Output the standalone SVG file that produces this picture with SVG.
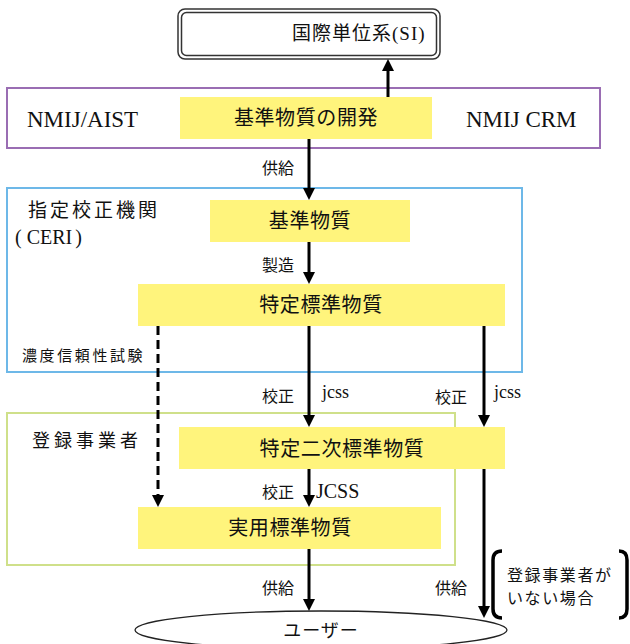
<svg xmlns="http://www.w3.org/2000/svg" width="630" height="644" viewBox="0 0 630 644">
<style>
.jp{font-family:"Noto Sans CJK JP","Noto Sans",sans-serif;fill:#111}
.sf{font-family:"Liberation Serif","DejaVu Serif",serif;fill:#111}
.box{font-size:20px;letter-spacing:0.6px;text-anchor:middle}
.lbl{font-size:16px}
.y{fill:#fff47c}
.ln{stroke:#000;stroke-width:3;fill:none}
</style>
<defs>
<marker id="ah" viewBox="0 0 12 12" refX="2" refY="6" markerWidth="12" markerHeight="12" markerUnits="userSpaceOnUse" orient="auto">
<path d="M0,0 L12,6 L0,12 z" fill="#000"/>
</marker>
</defs>
<rect width="630" height="644" fill="#fff"/>

<g id="si">
<rect x="178" y="9" width="262" height="50" rx="7" fill="none" stroke="#333" stroke-width="1.5"/>
<rect x="181.5" y="12.5" width="255" height="43" rx="5" fill="none" stroke="#333" stroke-width="1.5"/>
<text class="jp" x="292" y="40" font-size="19" letter-spacing="1">国際単位系<tspan class="sf">(SI)</tspan></text>
</g>

<g id="nmij">
<rect x="7" y="88" width="593" height="60" fill="none" stroke="#9a6db3" stroke-width="2"/>
<text class="sf" x="27" y="127" font-size="23">NMIJ/AIST</text>
<text class="sf" x="466" y="127" font-size="23">NMIJ CRM</text>
</g>
<g id="dev">
<rect class="y" x="180" y="97" width="252" height="42"/>
<text class="jp box" x="306" y="125">基準物質の開発</text>
</g>

<g id="ceri">
<rect x="7" y="188" width="515" height="184" fill="none" stroke="#6db8e8" stroke-width="2"/>
<text class="jp" x="28" y="217" font-size="19" letter-spacing="3">指定校正機関</text>
<text class="sf" x="15" y="244" font-size="20">(<tspan dx="5">CERI</tspan><tspan dx="3">)</tspan></text>
<text class="jp" x="22" y="361" font-size="15" letter-spacing="2.6">濃度信頼性試験</text>
</g>
<g id="kijun">
<rect class="y" x="210" y="200" width="200" height="42"/>
<text class="jp box" x="310" y="228">基準物質</text>
</g>
<g id="tokutei">
<rect class="y" x="138" y="284" width="367" height="42"/>
<text class="jp box" x="321" y="312">特定標準物質</text>
</g>

<g id="toroku">
<rect x="7" y="413" width="448" height="152" fill="none" stroke="#cfe08a" stroke-width="2"/>
<text class="jp" x="32" y="447" font-size="18" letter-spacing="4">登録事業者</text>
</g>
<g id="niji">
<rect class="y" x="179" y="427" width="326" height="42"/>
<text class="jp box" x="342" y="456">特定二次標準物質</text>
</g>
<g id="jitsuyo">
<rect class="y" x="138" y="507" width="303" height="42"/>
<text class="jp box" x="290" y="535">実用標準物質</text>
</g>

<g id="user">
<ellipse cx="321" cy="630" rx="186" ry="19" fill="none" stroke="#222" stroke-width="1.3"/>
<text class="jp" x="321" y="637" font-size="18" text-anchor="middle" letter-spacing="1">ユーザー</text>
</g>

<g id="note">
<path d="M502 551 Q493 551 493 560 L493 609 Q493 618 502 618" fill="none" stroke="#000" stroke-width="3.5"/>
<path d="M619 551 Q627 551 627 560 L627 609 Q627 618 619 618" fill="none" stroke="#000" stroke-width="3.5"/>
<text class="jp" x="507" y="581" font-size="16" letter-spacing="1.6">登録事業者が</text>
<text class="jp" x="507" y="604" font-size="16" letter-spacing="1.6">いない場合</text>
</g>

<g id="connectors">
<line class="ln" x1="388" y1="97" x2="388" y2="69" marker-end="url(#ah)"/>
<line class="ln" x1="309" y1="139" x2="309" y2="190" marker-end="url(#ah)"/>
<line class="ln" x1="309" y1="242" x2="309" y2="274" marker-end="url(#ah)"/>
<line class="ln" x1="309" y1="326" x2="309" y2="417" marker-end="url(#ah)"/>
<line class="ln" x1="484" y1="326" x2="484" y2="417" marker-end="url(#ah)"/>
<line class="ln" x1="158" y1="326" x2="158" y2="497" stroke-width="3.5" stroke-dasharray="9,5" marker-end="url(#ah)"/>
<line class="ln" x1="309" y1="469" x2="309" y2="497" marker-end="url(#ah)"/>
<line class="ln" x1="309" y1="549" x2="309" y2="601" marker-end="url(#ah)"/>
<line class="ln" x1="484" y1="469" x2="484" y2="608" marker-end="url(#ah)"/>
<text class="jp lbl" x="262" y="174">供給</text>
<text class="jp lbl" x="262" y="271">製造</text>
<text class="jp lbl" x="262" y="402">校正</text>
<text class="sf" x="322" y="398" font-size="18">jcss</text>
<text class="jp lbl" x="435" y="403">校正</text>
<text class="sf" x="494" y="398" font-size="18">jcss</text>
<text class="jp lbl" x="262" y="498">校正</text>
<text class="sf" x="316" y="498" font-size="20">JCSS</text>
<text class="jp lbl" x="262" y="594">供給</text>
<text class="jp lbl" x="435" y="594">供給</text>
</g>
</svg>
